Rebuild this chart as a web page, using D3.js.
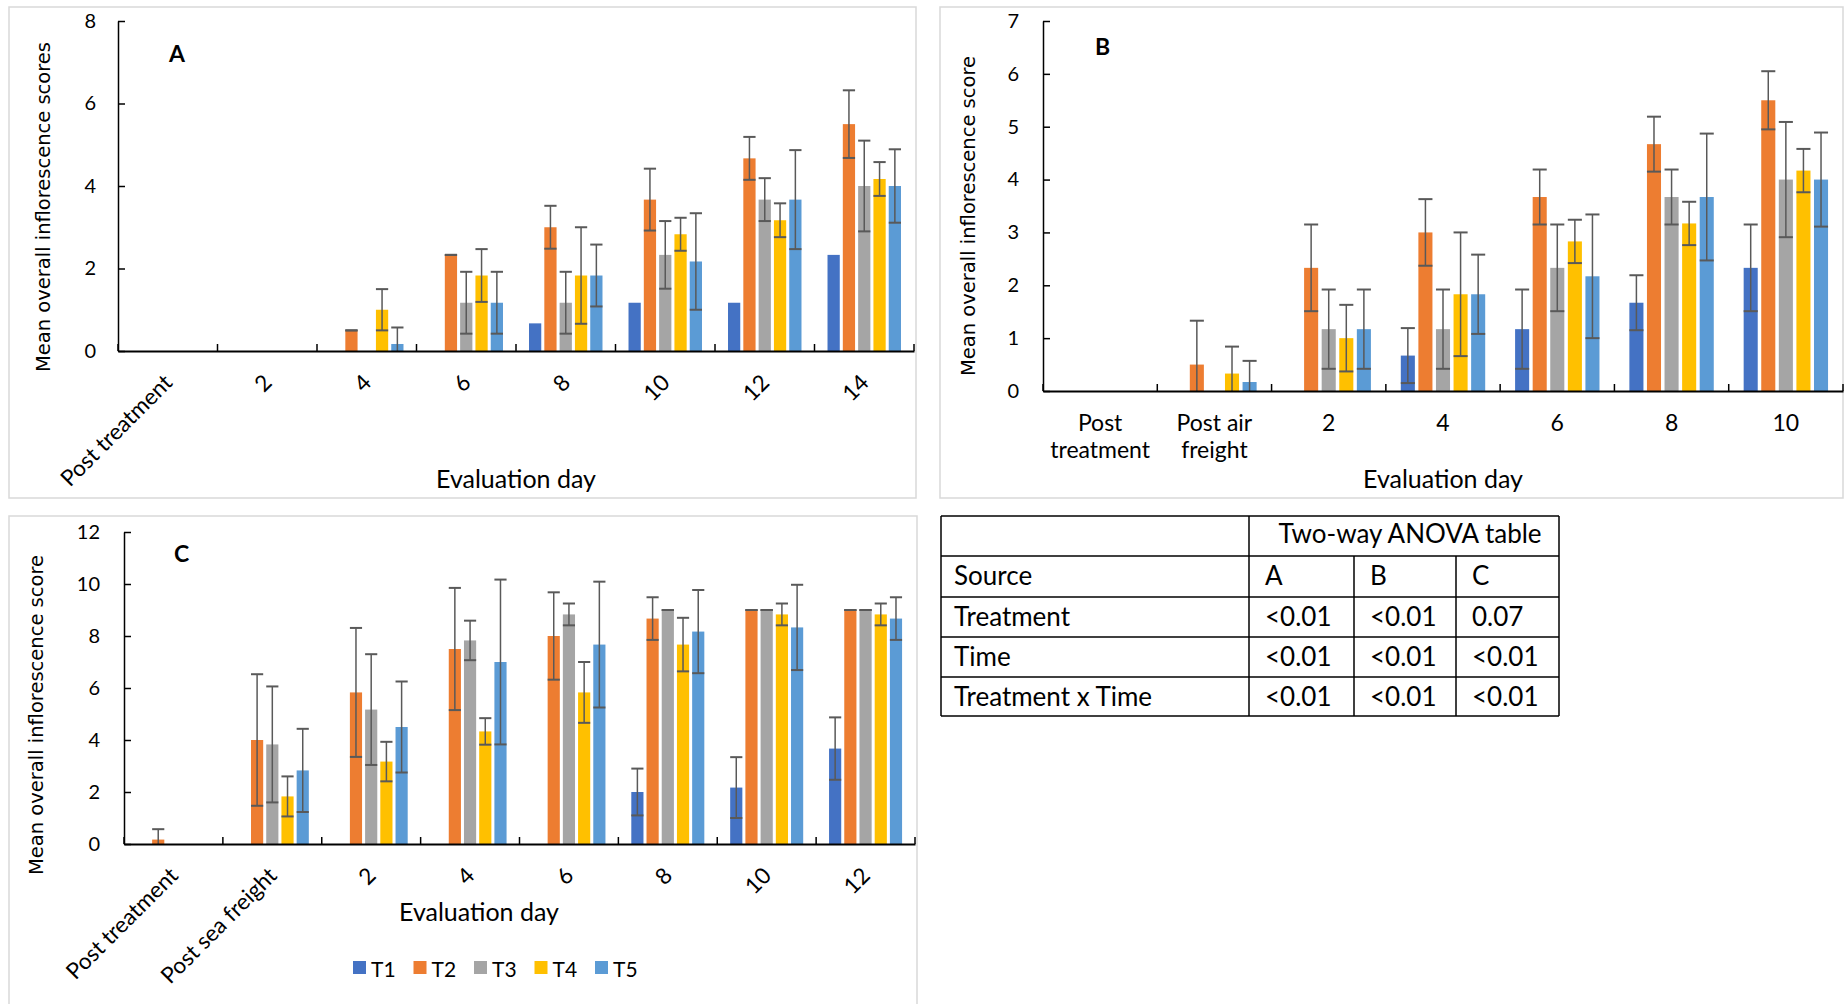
<!DOCTYPE html>
<html>
<head>
<meta charset="utf-8">
<script src="https://cdn.jsdelivr.net/npm/d3@7"></script>
<style>
  body { margin: 0; background: #fff; }
  svg { display: block; }
</style>
</head>
<body>
<svg id="fig" width="1845" height="1004"></svg>
<script>
// ---------------- data ----------------
const seriesNames = ["T1", "T2", "T3", "T4", "T5"];
const seriesColors = ["#4472C4", "#ED7D31", "#A5A5A5", "#FFC000", "#5B9BD5"];

// panel A
const daysA = ["Post treatment", "2", "4", "6", "8", "10", "12", "14"];
const ticksA = [0, 2, 4, 6, 8];
const meanA = [
  [0, 0, 0, 0, 0.67, 1.17, 1.17, 2.33],
  [0, 0, 0.5, 2.33, 3, 3.67, 4.67, 5.5],
  [0, 0, 0, 1.17, 1.17, 2.33, 3.67, 4],
  [0, 0, 1, 1.83, 1.83, 2.83, 3.17, 4.17],
  [0, 0, 0.17, 1.17, 1.83, 2.17, 3.67, 4]
];
const errA = [
  [null, null, null, null, null, null, null, null],
  [0, 0, 0, 0, 0.52, 0.75, 0.52, 0.82],
  [0, 0, 0, 0.75, 0.75, 0.82, 0.52, 1.1],
  [0, 0, 0.5, 0.64, 1.17, 0.4, 0.41, 0.41],
  [0, 0, 0.4, 0.75, 0.75, 1.17, 1.2, 0.89]
];

// panel B
const daysB = ["Post treatment", "Post air freight", "2", "4", "6", "8", "10"];
const ticksB = [0, 1, 2, 3, 4, 5, 6, 7];
const meanB = [
  [0, 0, 0, 0.67, 1.17, 1.67, 2.33],
  [0, 0.5, 2.33, 3, 3.67, 4.67, 5.5],
  [0, 0, 1.17, 1.17, 2.33, 3.67, 4],
  [0, 0.33, 1, 1.83, 2.83, 3.17, 4.17],
  [0, 0.17, 1.17, 1.83, 2.17, 3.67, 4]
];
const errB = [
  [0, 0, 0, 0.52, 0.75, 0.52, 0.82],
  [0, 0.83, 0.82, 0.63, 0.52, 0.52, 0.55],
  [0, 0, 0.75, 0.75, 0.82, 0.52, 1.09],
  [0, 0.51, 0.63, 1.17, 0.41, 0.41, 0.41],
  [0, 0.4, 0.75, 0.75, 1.17, 1.2, 0.89]
];

// panel C
const daysC = ["Post treatment", "Post sea freight", "2", "4", "6", "8", "10", "12"];
const ticksC = [0, 2, 4, 6, 8, 10, 12];
const meanC = [
  [0, 0, 0, 0, 0, 2, 2.17, 3.67],
  [0.17, 4, 5.83, 7.5, 8, 8.67, 9, 9],
  [0, 3.83, 5.17, 7.83, 8.83, 9, 9, 9],
  [0, 1.83, 3.17, 4.33, 5.83, 7.67, 8.83, 8.83],
  [0, 2.83, 4.5, 7, 7.67, 8.17, 8.33, 8.67]
];
const errC = [
  [0, 0, 0, 0, 0, 0.9, 1.17, 1.2],
  [0.4, 2.53, 2.48, 2.35, 1.68, 0.82, 0, 0],
  [0, 2.23, 2.13, 0.76, 0.42, 0, 0, 0],
  [0, 0.77, 0.76, 0.51, 1.17, 1.03, 0.42, 0.42],
  [0, 1.6, 1.75, 3.17, 2.42, 1.6, 1.64, 0.82]
];

// ANOVA table
const anovaTitle = "Two-way ANOVA table";
const anovaHead = ["Source", "A", "B", "C"];
const anovaRows = [
  ["Treatment", "<0.01", "<0.01", "0.07"],
  ["Time", "<0.01", "<0.01", "<0.01"],
  ["Treatment x Time", "<0.01", "<0.01", "<0.01"]
];

// ---------------- drawing ----------------
const svg = d3.select("#fig");
const tickFont = "Lato, 'Open Sans', sans-serif";
const errColor = "#595959";

function drawPanel(p) {
  const g = svg.append("g");

  // light grey frame round the chart
  g.append("rect")
    .attr("x", p.frame[0]).attr("y", p.frame[1])
    .attr("width", p.frame[2]).attr("height", p.frame[3])
    .attr("fill", "none").attr("stroke", "#d9d9d9").attr("stroke-width", 1.5);

  const x0 = d3.scaleBand().domain(p.cats).range([p.left, p.right]);
  const x1 = d3.scaleBand().domain(seriesNames).range([0, x0.bandwidth()])
    .paddingInner(0.2).paddingOuter(0.85);
  const y = d3.scaleLinear().domain([0, p.ymax]).range([p.bottom, p.top]);

  const flat = [];
  seriesNames.forEach((s, si) => {
    p.cats.forEach((c, ci) => {
      flat.push({ s: s, si: si, c: c, v: p.means[si][ci], e: p.errs[si][ci] });
    });
  });

  // bars
  g.selectAll(".bar")
    .data(flat.filter(d => d.v > 0))
    .enter().append("rect")
    .attr("class", "bar")
    .attr("x", d => x0(d.c) + x1(d.s))
    .attr("y", d => y(d.v))
    .attr("width", x1.bandwidth())
    .attr("height", d => y(0) - y(d.v))
    .attr("fill", d => seriesColors[d.si]);

  // error bars
  const eb = flat.filter(d => d.e !== null && d.v > 0);
  const cx = d => x0(d.c) + x1(d.s) + x1.bandwidth() / 2;
  const half = x1.bandwidth() / 2;
  g.selectAll(".err")
    .data(eb)
    .enter().append("line")
    .attr("x1", cx).attr("x2", cx)
    .attr("y1", d => y(Math.max(0, d.v - d.e)))
    .attr("y2", d => y(d.v + d.e))
    .attr("stroke", errColor).attr("stroke-width", 1.5);
  g.selectAll(".capHi")
    .data(eb)
    .enter().append("line")
    .attr("x1", d => cx(d) - half).attr("x2", d => cx(d) + half)
    .attr("y1", d => y(d.v + d.e)).attr("y2", d => y(d.v + d.e))
    .attr("stroke", errColor).attr("stroke-width", 2);
  g.selectAll(".capLo")
    .data(eb.filter(d => d.v - d.e >= 0))
    .enter().append("line")
    .attr("x1", d => cx(d) - half).attr("x2", d => cx(d) + half)
    .attr("y1", d => y(d.v - d.e)).attr("y2", d => y(d.v - d.e))
    .attr("stroke", errColor).attr("stroke-width", 2);

  // y axis, ticks pointing inside
  const yAxis = g.append("g")
    .attr("transform", `translate(${p.left},0)`)
    .call(d3.axisLeft(y).tickValues(p.yticks).tickFormat(d3.format("d"))
      .tickSizeInner(-7).tickSizeOuter(0).tickPadding(p.yPad));
  yAxis.select(".domain").attr("stroke", "#000").attr("stroke-width", 1.5);
  yAxis.selectAll(".tick line").attr("stroke", "#000").attr("stroke-width", 1.5);
  yAxis.selectAll(".tick text")
    .attr("font-family", tickFont).attr("font-size", 20).attr("fill", "#000");

  // x axis, ticks between categories
  const xAxis = g.append("g")
    .attr("transform", `translate(0,${p.bottom})`)
    .call(d3.axisBottom(x0).tickSize(0).tickFormat(""));
  xAxis.select(".domain").attr("stroke", "#000").attr("stroke-width", 2);
  g.selectAll(".xtick")
    .data(d3.range(p.cats.length + 1))
    .enter().append("line")
    .attr("x1", i => p.left + i * x0.step()).attr("x2", i => p.left + i * x0.step())
    .attr("y1", p.bottom).attr("y2", p.bottom - 7)
    .attr("stroke", "#000").attr("stroke-width", 1.5);

  // category labels
  if (p.rotate) {
    g.selectAll(".xlab")
      .data(p.cats)
      .enter().append("text")
      .attr("transform", d => `translate(${x0(d) + x0.bandwidth() / 2},${p.bottom + 27}) rotate(-45)`)
      .attr("text-anchor", "end")
      .attr("dominant-baseline", "central")
      .attr("font-family", tickFont).attr("font-size", 22.5)
      .text(d => d);
  } else {
    const lab = g.selectAll(".xlab")
      .data(p.cats)
      .enter().append("text")
      .attr("text-anchor", "middle")
      .attr("font-family", tickFont).attr("font-size", 23);
    lab.each(function (d) {
      const cut = d.lastIndexOf(" ");
      const lines = cut > 0 ? [d.slice(0, cut), d.slice(cut + 1)] : [d];
      lines.forEach((t, i) => {
        d3.select(this).append("tspan")
          .attr("x", x0(d) + x0.bandwidth() / 2)
          .attr("y", p.bottom + 40 + i * 27)
          .text(t);
      });
    });
  }

  // axis titles
  g.append("text")
    .attr("x", p.xTitle[0]).attr("y", p.xTitle[1])
    .attr("text-anchor", "middle")
    .attr("font-family", tickFont).attr("font-size", 25)
    .text("Evaluation day");

  g.append("text")
    .attr("transform", `translate(${p.yTitle[0]},${p.yTitle[1]}) rotate(-90)`)
    .attr("text-anchor", "middle")
    .attr("font-family", "'DejaVu Sans', sans-serif").attr("font-size", 19)
    .attr("textLength", p.yTitle[2]).attr("lengthAdjust", "spacingAndGlyphs")
    .text(p.yLabel);

  // panel letter
  g.append("text")
    .attr("x", p.letterPos[0]).attr("y", p.letterPos[1])
    .attr("font-family", tickFont).attr("font-weight", "bold").attr("font-size", 23)
    .text(p.letter);
}

drawPanel({
  frame: [9, 7, 907, 491],
  left: 118, right: 914, top: 21, bottom: 351,
  ymax: 8, yticks: ticksA, yPad: 22,
  cats: daysA, means: meanA, errs: errA, rotate: true,
  xTitle: [516, 488], yTitle: [50, 207, 330],
  yLabel: "Mean overall inflorescence scores",
  letter: "A", letterPos: [169, 62]
});

drawPanel({
  frame: [940, 7, 903, 491],
  left: 1043, right: 1843, top: 21, bottom: 391,
  ymax: 7, yticks: ticksB, yPad: 24,
  cats: daysB, means: meanB, errs: errB, rotate: false,
  xTitle: [1443, 488], yTitle: [975, 216, 320],
  yLabel: "Mean overall inflorescence score",
  letter: "B", letterPos: [1095, 55]
});

drawPanel({
  frame: [9, 516, 908, 500],
  left: 124, right: 915, top: 532, bottom: 844,
  ymax: 12, yticks: ticksC, yPad: 24,
  cats: daysC, means: meanC, errs: errC, rotate: true,
  xTitle: [479, 921], yTitle: [43, 715, 320],
  yLabel: "Mean overall inflorescence score",
  letter: "C", letterPos: [174, 562]
});

// legend under panel C
const legend = svg.append("g").attr("transform", "translate(353,968)");
const li = legend.selectAll("g")
  .data(seriesNames)
  .enter().append("g")
  .attr("transform", (d, i) => `translate(${i * 60.5},0)`);
li.append("rect")
  .attr("x", 0).attr("y", -7).attr("width", 13).attr("height", 13)
  .attr("fill", (d, i) => seriesColors[i]);
li.append("text")
  .attr("x", 18).attr("y", 0)
  .attr("dominant-baseline", "central")
  .attr("font-family", tickFont).attr("font-size", 21)
  .text(d => d);

// ANOVA table
const tblCols = [941, 1249, 1354, 1456, 1559];
const tblRows = [516, 556, 597, 637, 677, 716];
const tbl = svg.append("g");
const lineStyle = sel => sel.attr("stroke", "#000").attr("stroke-width", 1.5);

tblRows.forEach(r => {
  tbl.append("line").attr("x1", tblCols[0]).attr("x2", tblCols[4])
    .attr("y1", r).attr("y2", r).call(lineStyle);
});
tblCols.forEach((c, i) => {
  const yStart = (i === 2 || i === 3) ? tblRows[1] : tblRows[0];
  tbl.append("line").attr("x1", c).attr("x2", c)
    .attr("y1", yStart).attr("y2", tblRows[5]).call(lineStyle);
});

tbl.append("text")
  .attr("x", (tblCols[1] + tblCols[4]) / 2 + 6).attr("y", tblRows[0] + 27)
  .attr("text-anchor", "middle")
  .attr("font-family", tickFont).attr("font-size", 26)
  .text(anovaTitle);

[anovaHead].concat(anovaRows).forEach((row, ri) => {
  row.forEach((cell, ci) => {
    tbl.append("text")
      .attr("x", tblCols[ci] + (ci === 0 ? 13 : 16))
      .attr("y", tblRows[ri + 1] + 29)
      .attr("font-family", tickFont).attr("font-size", 26)
      .text(cell);
  });
});
</script>
</body>
</html>
